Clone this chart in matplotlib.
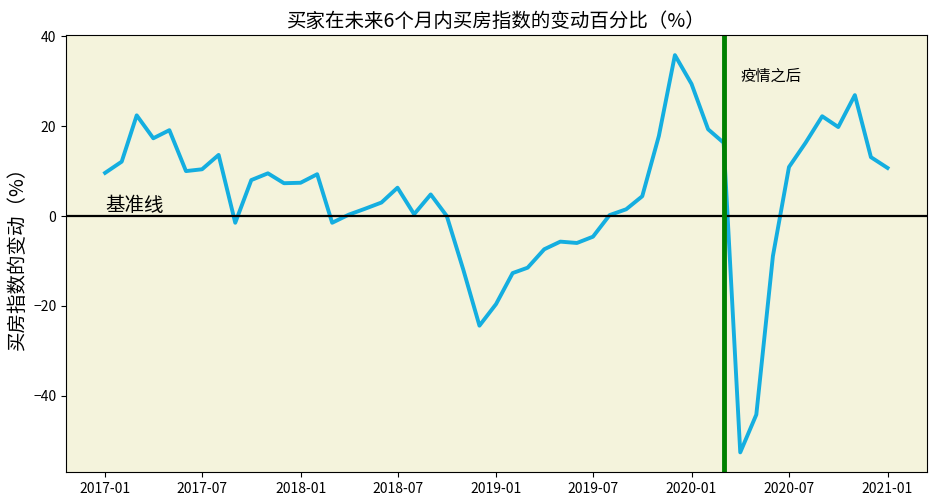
import numpy as np
import pandas as pd
import matplotlib
matplotlib.use("Agg")
import matplotlib.pyplot as plt

plt.rcParams['font.family'] = ['Noto Sans CJK SC', 'DejaVu Sans']
plt.rcParams['axes.unicode_minus'] = True

# 数据：2017-01 到 2021-01 每月
months = pd.date_range("2017-01-01", "2021-01-01", freq="MS")
change = [9.6, 12.1, 22.4, 17.3, 19.1, 10.0, 10.4, 13.6, -1.5, 8.0,
          9.5, 7.3, 7.4, 9.3, -1.5, 0.3, 1.6, 3.0, 6.3, 0.4,
          4.8, 0.0, -12.0, -24.4, -19.6, -12.7, -11.5, -7.4, -5.7, -6.0,
          -4.6, 0.2, 1.5, 4.4, 17.8, 35.8, 29.4, 19.3, 16.3, -52.6,
          -44.2, -8.9, 10.9, 16.3, 22.2, 19.8, 26.9, 13.1, 10.7]
covid_date = pd.Timestamp("2020-03-01")

fig, ax = plt.subplots(figsize=(9.36, 5.04), dpi=100)
ax.set_facecolor('#f4f3dc')
ax.plot(months, change, color='#14aee0', linewidth=2.8)
ax.axhline(0, color='black', linewidth=1.6)
ax.axvline(covid_date, color='green', linewidth=3.5)

ax.text(pd.Timestamp("2017-01-02"), 2.3, '基准线', fontsize=14, va='center', ha='left')
ax.text(pd.Timestamp("2020-04-02"), 31.2, '疫情之后', fontsize=11, va='center', ha='left')

ax.set_title('买家在未来6个月内买房指数的变动百分比（%）', fontsize=14)
ax.set_ylabel('买房指数的变动（%）', fontsize=14)
ax.set_yticks([-40, -20, 0, 20, 40])
ax.tick_params(labelsize=10)

plt.subplots_adjust(left=0.0705, right=0.99, top=0.93, bottom=0.063)
plt.savefig("out.png", dpi=100)
